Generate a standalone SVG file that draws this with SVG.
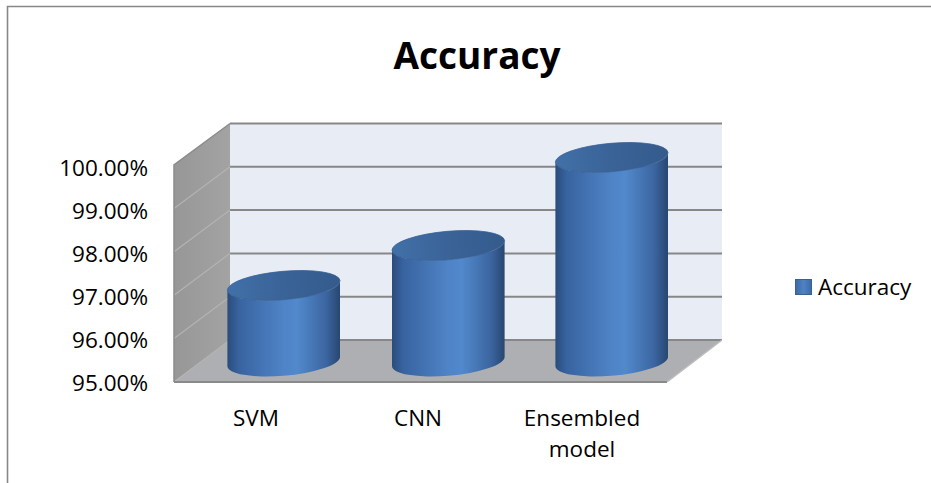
<svg xmlns="http://www.w3.org/2000/svg" width="931" height="483" viewBox="0 0 931 483">
<defs>
<linearGradient id="body" x1="0" y1="0" x2="1" y2="0">
<stop offset="0" stop-color="#2a4c7b"/>
<stop offset="0.1" stop-color="#3863a0"/>
<stop offset="0.5" stop-color="#4f84c7"/>
<stop offset="0.62" stop-color="#5189cc"/>
<stop offset="0.88" stop-color="#3b65a0"/>
<stop offset="1" stop-color="#284670"/>
</linearGradient>
<linearGradient id="top" x1="0" y1="0" x2="1" y2="0">
<stop offset="0" stop-color="#4170a8"/>
<stop offset="0.5" stop-color="#3a6398"/>
<stop offset="1" stop-color="#355b8c"/>
</linearGradient>
<linearGradient id="side" x1="0" y1="0" x2="1" y2="0">
<stop offset="0" stop-color="#979797"/>
<stop offset="1" stop-color="#a3a3a3"/>
</linearGradient>
<linearGradient id="legendfill" x1="0" y1="0" x2="1" y2="0">
<stop offset="0" stop-color="#3d6aa6"/>
<stop offset="0.5" stop-color="#4f82c3"/>
<stop offset="1" stop-color="#3d6aa6"/>
</linearGradient>
</defs>
<style>
.lbl{font-family:"Open Sans","Liberation Sans",Arial,sans-serif;font-size:22.5px;fill:#000}
.ax{text-anchor:end}
.cat{text-anchor:middle}
.title{font-family:"Open Sans","Liberation Sans",Arial,sans-serif;font-size:37px;font-weight:bold;text-anchor:middle;fill:#000}
.grid{stroke:#878787;stroke-width:2;fill:none}
.diag{stroke:#b3b3b3;stroke-width:1.2;fill:none}
.body{fill:url(#body)}
.cap{fill:url(#top);stroke:#3a6195;stroke-width:0.8}
</style>
<rect x="0" y="0" width="931" height="483" fill="#ffffff"/>
<g id="frame">
<path d="M7.5,483 L7.5,6.5 L931,6.5" fill="none" stroke="#878787" stroke-width="1.6"/>
</g>
<text id="title" class="title" x="477" y="69">Accuracy</text>
<g id="plot-walls">
<polygon points="230,123.5 722,123.5 722,340 230,340" fill="#e8ecf5"/>
<polygon points="174,165 230,123.5 230,340 174,382" fill="url(#side)"/>
<polygon points="230,340 722,340 667,382 174,382" fill="#adafb2"/>
<g id="gridlines">
<line class="grid" x1="230" y1="123.5" x2="722" y2="123.5"/>
<line class="grid" x1="230" y1="166.8" x2="722" y2="166.8"/>
<line class="grid" x1="230" y1="210.1" x2="722" y2="210.1"/>
<line class="grid" x1="230" y1="253.4" x2="722" y2="253.4"/>
<line class="grid" x1="230" y1="296.7" x2="722" y2="296.7"/>
<line class="grid" x1="230" y1="340" x2="722" y2="340"/>
<line class="diag" x1="174" y1="208.4" x2="230" y2="166.8"/>
<line class="diag" x1="174" y1="251.8" x2="230" y2="210.1"/>
<line class="diag" x1="174" y1="295.2" x2="230" y2="253.4"/>
<line class="diag" x1="174" y1="338.6" x2="230" y2="296.7"/>
<line class="diag" x1="174" y1="382" x2="230" y2="340"/>
</g>
<path d="M174,382 L174,165 L230,123.5" fill="none" stroke="#8c8c8c" stroke-width="1.5"/>
<line x1="174" y1="382" x2="667" y2="382" stroke="#8a8a8a" stroke-width="2"/>
<line x1="667" y1="382" x2="722" y2="340" stroke="#bdbdbd" stroke-width="1.5"/>
</g>
<g id="bar-svm">
<path class="body" d="M227.4,290.11 L227.4,366.11 A56.5,14.2 -5 0 0 340,356.89 L340,280.89 A56.5,14.2 -5 0 1 227.4,290.11 Z"/>
<ellipse class="cap" cx="283.7" cy="285.5" rx="56.5" ry="14.2" transform="rotate(-5 283.7 285.5)"/>
</g>
<g id="bar-cnn">
<path class="body" d="M392,250.11 L392,366.11 A56.5,14.2 -5 0 0 504.6,356.89 L504.6,240.89 A56.5,14.2 -5 0 1 392,250.11 Z"/>
<ellipse class="cap" cx="448.3" cy="245.5" rx="56.5" ry="14.2" transform="rotate(-5 448.3 245.5)"/>
</g>
<g id="bar-ensembled">
<path class="body" d="M555.4,162.11 L555.4,366.11 A56.5,14.2 -5 0 0 668,356.89 L668,152.89 A56.5,14.2 -5 0 1 555.4,162.11 Z"/>
<ellipse class="cap" cx="611.7" cy="157.5" rx="56.5" ry="14.2" transform="rotate(-5 611.7 157.5)"/>
</g>
<g id="y-axis-labels">
<text class="lbl ax" x="148" y="176">100.00%</text>
<text class="lbl ax" x="148" y="219">99.00%</text>
<text class="lbl ax" x="148" y="262">98.00%</text>
<text class="lbl ax" x="148" y="305">97.00%</text>
<text class="lbl ax" x="148" y="348">96.00%</text>
<text class="lbl ax" x="148" y="391">95.00%</text>
</g>
<g id="category-labels">
<text class="lbl cat" x="256" y="426">SVM</text>
<text class="lbl cat" x="418" y="426">CNN</text>
<text class="lbl cat" x="582" y="426">Ensembled</text>
<text class="lbl cat" x="582" y="457">model</text>
</g>
<g id="legend">
<rect x="795.5" y="279.5" width="16" height="15" fill="url(#legendfill)" stroke="#3a6196" stroke-width="1"/>
<text class="lbl" x="818" y="294.5">Accuracy</text>
</g>
</svg>
